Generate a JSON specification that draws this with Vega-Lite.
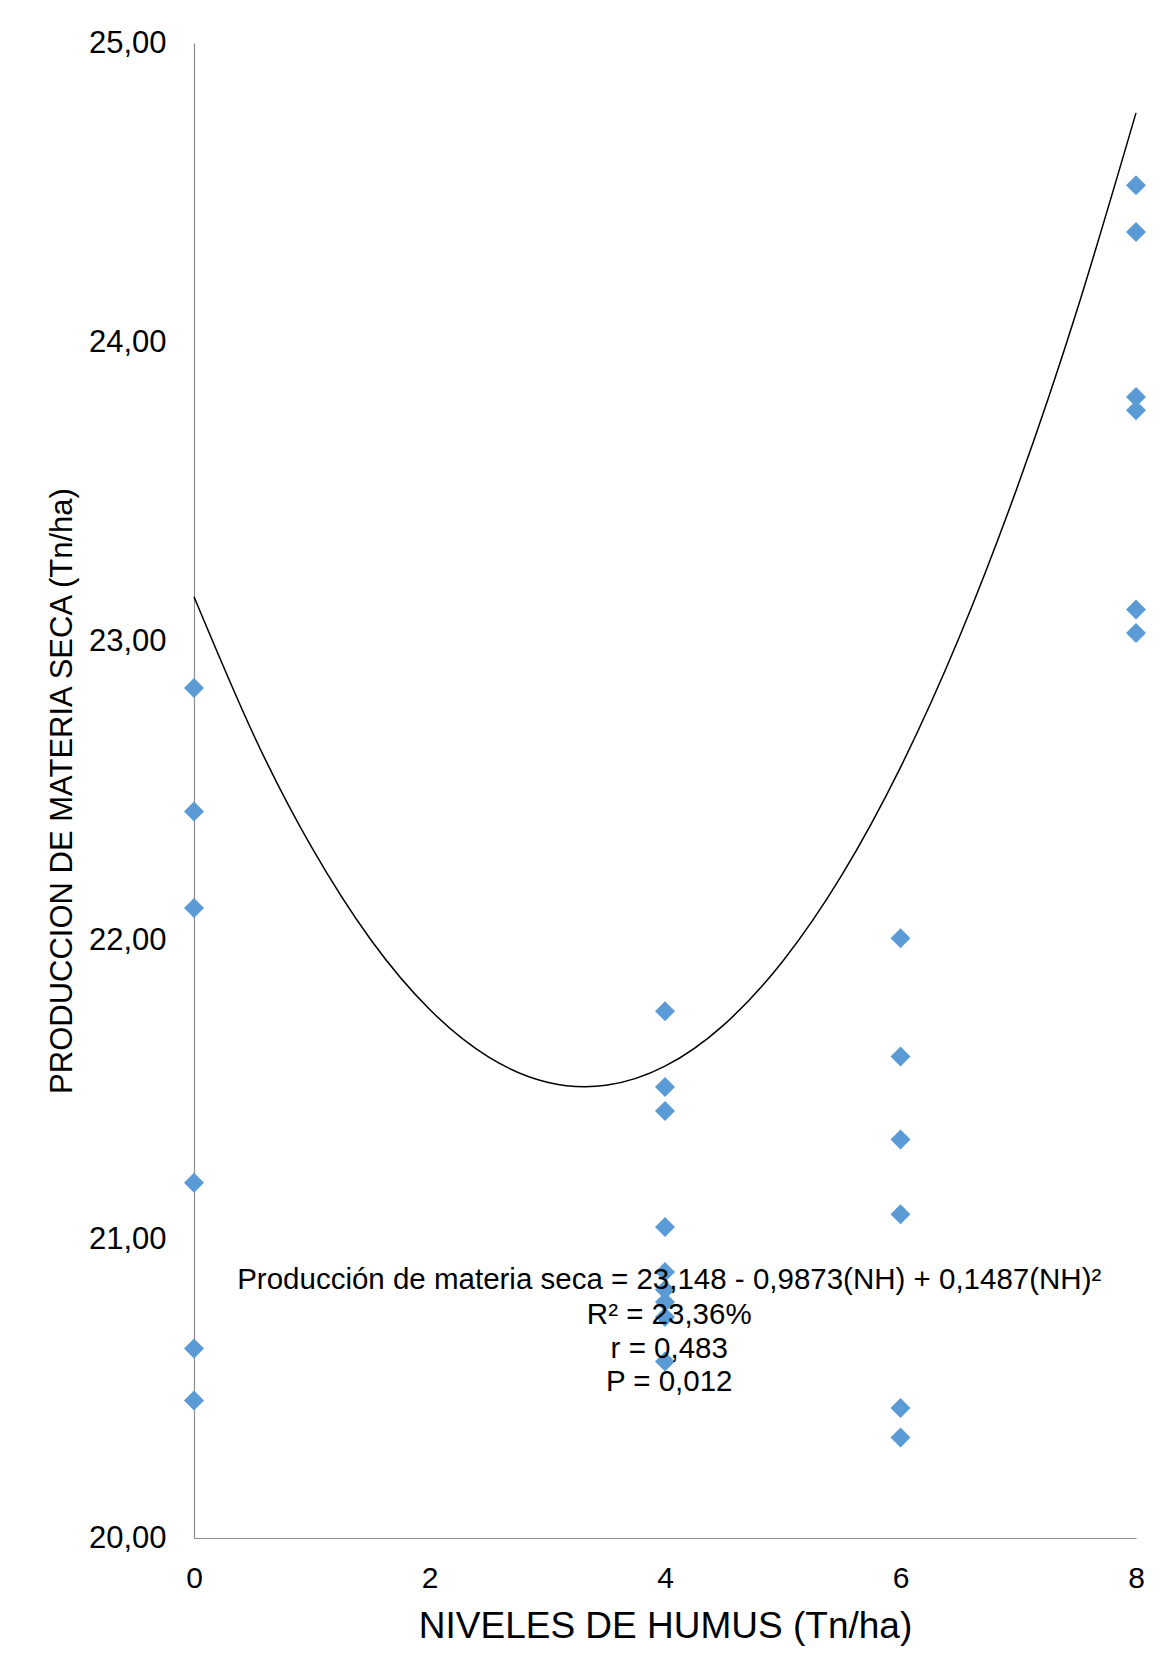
{
  "$schema": "https://vega.github.io/schema/vega-lite/v6.json",
  "width": 942,
  "height": 1495,
  "autosize": {"type": "none"},
  "padding": {"left": 194, "top": 43, "right": 28, "bottom": 132},
  "background": "white",
  "config": {
    "view": {"stroke": null},
    "font": "Liberation Sans",
    "axis": {"grid": false, "ticks": false, "domainColor": "#8c8c8c", "domainWidth": 1.2, "labelColor": "#000000", "titleColor": "#000000", "labelFont": "Liberation Sans", "titleFont": "Liberation Sans", "titleFontWeight": "normal", "labelFlush": false}
  },
  "datasets": {
    "points": [
      {"nh": 0, "ms": 22.843}, {"nh": 0, "ms": 22.43}, {"nh": 0, "ms": 22.107}, {"nh": 0, "ms": 21.188}, {"nh": 0, "ms": 20.634}, {"nh": 0, "ms": 20.46},
      {"nh": 4, "ms": 21.762}, {"nh": 4, "ms": 21.508}, {"nh": 4, "ms": 21.428}, {"nh": 4, "ms": 21.04}, {"nh": 4, "ms": 20.89}, {"nh": 4, "ms": 20.83}, {"nh": 4, "ms": 20.789}, {"nh": 4, "ms": 20.739}, {"nh": 4, "ms": 20.59},
      {"nh": 6, "ms": 22.006}, {"nh": 6, "ms": 21.61}, {"nh": 6, "ms": 21.333}, {"nh": 6, "ms": 21.083}, {"nh": 6, "ms": 20.435}, {"nh": 6, "ms": 20.336},
      {"nh": 8, "ms": 24.524}, {"nh": 8, "ms": 24.368}, {"nh": 8, "ms": 23.816}, {"nh": 8, "ms": 23.772}, {"nh": 8, "ms": 23.105}, {"nh": 8, "ms": 23.027}
    ],
    "curve": [
      {"nh": 0, "ms": 23.148}, {"nh": 0.5, "ms": 22.6915}, {"nh": 1, "ms": 22.3094}, {"nh": 1.5, "ms": 22.0016},
      {"nh": 2, "ms": 21.7682}, {"nh": 2.5, "ms": 21.6091}, {"nh": 3, "ms": 21.5244}, {"nh": 3.5, "ms": 21.514},
      {"nh": 4, "ms": 21.578}, {"nh": 4.5, "ms": 21.7163}, {"nh": 5, "ms": 21.929}, {"nh": 5.5, "ms": 22.216},
      {"nh": 6, "ms": 22.5774}, {"nh": 6.5, "ms": 23.0131}, {"nh": 7, "ms": 23.5232}, {"nh": 7.5, "ms": 24.1076},
      {"nh": 8, "ms": 24.7664}
    ],
    "labels": [
      {"nh": 4.036, "ms": 20.862, "txt": "Producción de materia seca = 23,148 - 0,9873(NH) + 0,1487(NH)²"},
      {"nh": 4.036, "ms": 20.746, "txt": "R² = 23,36%"},
      {"nh": 4.036, "ms": 20.632, "txt": "r = 0,483"},
      {"nh": 4.036, "ms": 20.523, "txt": "P = 0,012"}
    ]
  },
  "layer": [
    {
      "data": {"name": "curve"},
      "mark": {"type": "line", "color": "#000000", "strokeWidth": 1.5, "interpolate": "natural"},
      "encoding": {
        "x": {"field": "nh", "type": "quantitative", "scale": {"domain": [0, 8], "nice": false}, "axis": {"values": [0, 2, 4, 6, 8], "format": "d", "labelFontSize": 30, "labelPadding": 25, "title": "NIVELES DE HUMUS (Tn/ha)", "titleFontSize": 37, "titlePadding": 15}},
        "y": {"field": "ms", "type": "quantitative", "scale": {"domain": [20, 25], "nice": false, "zero": false}, "axis": {"values": [20, 21, 22, 23, 24, 25], "labelExpr": "replace(format(datum.value, '.2f'), '.', ',')", "labelFontSize": 31, "labelPadding": 28, "title": "PRODUCCION DE MATERIA SECA (Tn/ha)", "titleFontSize": 31, "titlePadding": 10}}
      }
    },
    {
      "data": {"name": "points"},
      "mark": {"type": "point", "shape": "diamond", "filled": true, "size": 400, "color": "#5B9BD5", "opacity": 1},
      "encoding": {
        "x": {"field": "nh", "type": "quantitative"},
        "y": {"field": "ms", "type": "quantitative"}
      }
    },
    {
      "data": {"name": "labels"},
      "mark": {"type": "text", "fontSize": 29.5, "color": "#000000", "align": "center", "baseline": "middle"},
      "encoding": {
        "x": {"field": "nh", "type": "quantitative"},
        "y": {"field": "ms", "type": "quantitative"},
        "text": {"field": "txt"}
      }
    }
  ]
}
